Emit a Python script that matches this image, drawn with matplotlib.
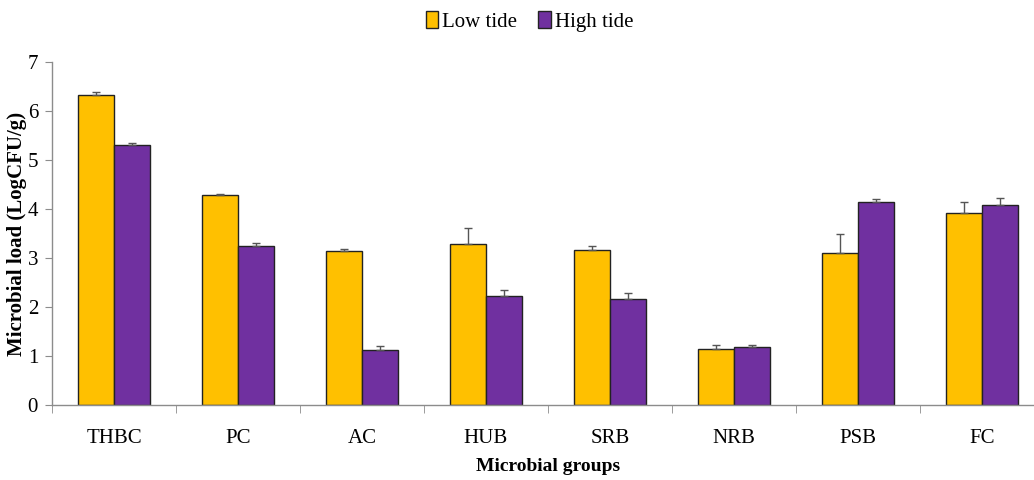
import matplotlib
matplotlib.use('Agg')
from matplotlib import pyplot as plt
from matplotlib.patches import Patch
import numpy as np

groups = ["THBC", "PC", "AC", "HUB", "SRB", "NRB", "PSB", "FC"]
low_tide = [6.33, 4.29, 3.14, 3.29, 3.16, 1.14, 3.10, 3.92]
high_tide = [5.31, 3.24, 1.12, 2.22, 2.16, 1.18, 4.14, 4.08]
low_err = [0.05, 0.02, 0.04, 0.33, 0.08, 0.08, 0.39, 0.23]
high_err = [0.03, 0.07, 0.08, 0.12, 0.12, 0.04, 0.07, 0.14]

yellow = "#FFC000"
purple = "#7030A0"
axis_grey = "#8c8c8c"

plt.rcParams['font.family'] = ['Liberation Serif', 'DejaVu Serif']

fig = plt.figure(figsize=(10.34, 4.8), dpi=100)
ax = fig.add_axes([52 / 1034, 75 / 480, 992 / 1034, 343 / 480])

x = np.arange(len(groups))
w = 0.29
ax.bar(x - w / 2, low_tide, w, color=yellow, edgecolor="#222222", linewidth=1.0, zorder=2)
ax.bar(x + w / 2, high_tide, w, color=purple, edgecolor="#222222", linewidth=1.0, zorder=2)
ax.errorbar(x - w / 2, low_tide, yerr=[np.zeros(len(groups)), low_err], fmt="none",
            ecolor="#555555", elinewidth=1, capsize=3, capthick=1, zorder=3)
ax.errorbar(x + w / 2, high_tide, yerr=[np.zeros(len(groups)), high_err], fmt="none",
            ecolor="#555555", elinewidth=1, capsize=3, capthick=1, zorder=3)

ax.set_xlim(-0.5, len(groups) - 0.5)
ax.set_ylim(0, 7)
ax.set_yticks(range(0, 8))
ax.set_xticks(x)
ax.set_xticklabels(groups)
ax.set_xticks(np.arange(-0.5, len(groups)), minor=True)
ax.tick_params(axis="x", which="major", length=0, pad=17, labelsize=15)
ax.tick_params(axis="x", which="minor", length=6, color=axis_grey, direction="out")
ax.tick_params(axis="y", length=5, color=axis_grey, labelsize=15, pad=5)

for side in ["top", "right"]:
    ax.spines[side].set_visible(False)
for side in ["left", "bottom"]:
    ax.spines[side].set_color(axis_grey)
    ax.spines[side].set_linewidth(1)

ax.set_ylabel("Microbial load (LogCFU/g)", fontsize=15, fontweight="bold", va="center")
ax.yaxis.set_label_coords(-0.035, 0.5)
ax.set_xlabel("Microbial groups", fontsize=14, fontweight="bold")
ax.xaxis.set_label_coords(0.5, -0.155)

handles = [Patch(facecolor=yellow, edgecolor="#222222", label="Low tide"),
           Patch(facecolor=purple, edgecolor="#222222", label="High tide")]
fig.legend(handles=handles, loc="center", bbox_to_anchor=(0.512, 0.955), ncol=2,
           frameon=False, fontsize=15, handlelength=0.6, handleheight=0.9,
           handletextpad=0.2, columnspacing=1.0)

fig.savefig("out.png", dpi=100)
